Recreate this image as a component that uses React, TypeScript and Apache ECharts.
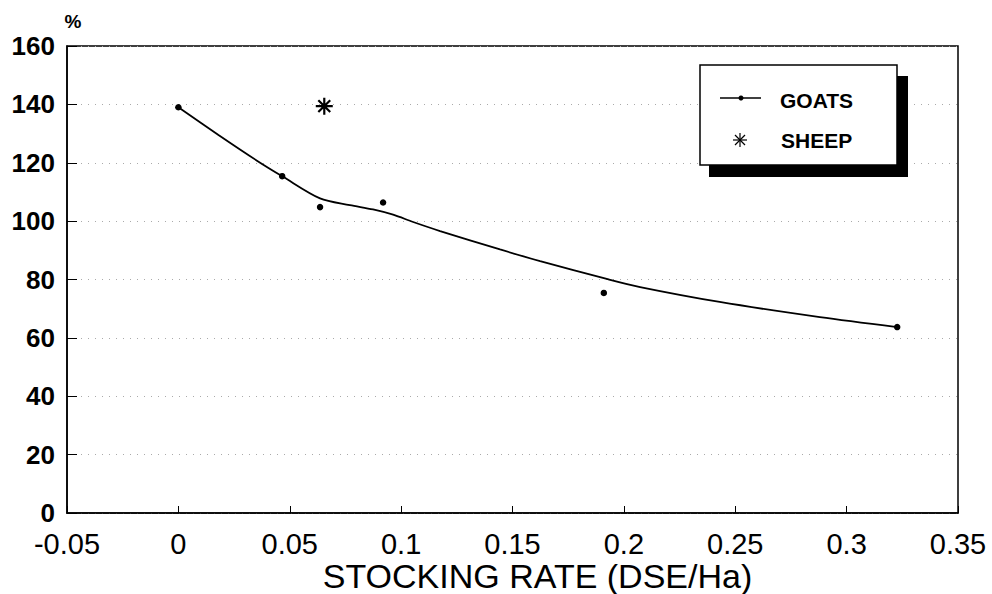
import React, { useEffect, useRef } from "react";
import * as echarts from "echarts";

// Observed goat measurements (stocking rate, %)
const goatX = [0, 0.0466, 0.0636, 0.0919, 0.191, 0.3227];
const goatY = [139, 115.4, 104.8, 106.4, 75.4, 63.7];

// Fitted goat curve
const curveX = [0, 0.018, 0.0351, 0.047, 0.0636, 0.077, 0.0874, 0.0964, 0.1054, 0.1175, 0.1444, 0.1624, 0.1923, 0.2073, 0.243, 0.288, 0.3227];
const curveY = [139, 129.5, 120.8, 115.2, 107.8, 105.5, 104.0, 102.2, 99.7, 96.6, 90.3, 86.3, 80.2, 77.4, 72.3, 67.1, 63.7];

// Sheep measurement
const sheepX = [0.0655];
const sheepY = [139.4];

const xTicks = { min: -0.05, max: 0.35, interval: 0.05 };
const yTicks = { min: 0, max: 160, interval: 20 };

const legendNames = ["GOATS", "SHEEP"];

const NARROW = "'Liberation Sans Narrow', 'Liberation Sans', Arial, sans-serif";
const SANS = "'Liberation Sans', Arial, Helvetica, sans-serif";

const ASTERISK = "path://M0,-10L0,10M-10,0L10,0M-7,-7L7,7M-7,7L7,-7";

export default function App() {
  const ref = useRef<HTMLDivElement>(null);
  useEffect(() => {
    if (!ref.current) return;
    const chart = echarts.init(ref.current, null, { renderer: "svg" });
    const goatPts = goatX.map((x, i) => [x, goatY[i]]);
    const curvePts = curveX.map((x, i) => [x, curveY[i]]);
    const sheepPts = sheepX.map((x, i) => [x, sheepY[i]]);
    chart.setOption({
      animation: false,
      backgroundColor: "#fff",
      grid: {
        left: 67,
        right: 34,
        top: 46,
        bottom: 81,
        containLabel: false,
        outerBoundsMode: "none",
        show: true,
        borderColor: "#000",
        borderWidth: 1.5,
        backgroundColor: "transparent",
      },
      xAxis: {
        type: "value",
        min: xTicks.min,
        max: xTicks.max,
        interval: xTicks.interval,
        name: "STOCKING RATE (DSE/Ha)",
        nameLocation: "middle",
        nameGap: 46,
        nameMoveOverlap: false,
        nameTextStyle: { fontFamily: NARROW, fontSize: 34, lineHeight: 34, color: "#000", padding: [0, 0, 0, 50] },
        axisLine: { show: true, onZero: false, lineStyle: { color: "#000", width: 1.5 } },
        axisTick: { show: true, inside: true, length: 7, lineStyle: { color: "#000", width: 1 } },
        axisLabel: {
          fontFamily: NARROW,
          fontSize: 29,
          lineHeight: 29,
          color: "#000",
          margin: 16,
          formatter: (v: number) => String(parseFloat(v.toFixed(2))),
        },
        splitLine: { show: false },
      },
      yAxis: {
        type: "value",
        min: yTicks.min,
        max: yTicks.max,
        interval: yTicks.interval,
        axisLine: { show: true, onZero: false, lineStyle: { color: "#000", width: 1.5 } },
        axisTick: { show: true, inside: true, length: 10, lineStyle: { color: "#000", width: 1 } },
        axisLabel: { fontFamily: SANS, fontWeight: "bold", fontSize: 26, color: "#000", margin: 12 },
        splitLine: { show: true, lineStyle: { color: "#aaa", width: 1, type: [1, 6] } },
      },
      series: [
        {
          name: "GOATS fit",
          type: "line",
          data: curvePts,
          smooth: 0.3,
          showSymbol: false,
          symbol: "none",
          lineStyle: { color: "#000", width: 1.8 },
          z: 2,
        },
        {
          name: legendNames[0],
          type: "scatter",
          data: goatPts,
          symbol: "circle",
          symbolSize: 6.5,
          itemStyle: { color: "#000", opacity: 1 },
          z: 3,
        },
        {
          name: legendNames[1],
          type: "scatter",
          data: sheepPts,
          symbol: ASTERISK,
          symbolSize: 17,
          itemStyle: { color: "none", borderColor: "#000", borderWidth: 2.2, opacity: 1 },
          z: 3,
        },
      ],
      graphic: [
        { type: "rect", shape: { x: 709, y: 76, width: 199, height: 101 }, style: { fill: "#000" }, z: 10 },
        { type: "rect", shape: { x: 700, y: 65, width: 197, height: 100 }, style: { fill: "#fff", stroke: "#000", lineWidth: 1.5 }, z: 11 },
        { type: "line", shape: { x1: 720, y1: 98, x2: 761, y2: 98 }, style: { stroke: "#000", lineWidth: 1.5 }, z: 12 },
        { type: "circle", shape: { cx: 741, cy: 98, r: 2.5 }, style: { fill: "#000" }, z: 12 },
        { type: "text", x: 780, y: 100, style: { text: legendNames[0], fontFamily: SANS, fontWeight: "bold", fontSize: 21, fill: "#000", verticalAlign: "middle" }, z: 12 },
        {
          type: "group",
          x: 740,
          y: 140,
          z: 12,
          children: [
            { type: "line", shape: { x1: 0, y1: -7, x2: 0, y2: 7 }, style: { stroke: "#000", lineWidth: 1.2 }, z: 12 },
            { type: "line", shape: { x1: -7, y1: 0, x2: 7, y2: 0 }, style: { stroke: "#000", lineWidth: 1.2 }, z: 12 },
            { type: "line", shape: { x1: -5, y1: -5, x2: 5, y2: 5 }, style: { stroke: "#000", lineWidth: 1.2 }, z: 12 },
            { type: "line", shape: { x1: -5, y1: 5, x2: 5, y2: -5 }, style: { stroke: "#000", lineWidth: 1.2 }, z: 12 },
          ],
        },
        { type: "text", x: 781, y: 140, style: { text: legendNames[1], fontFamily: SANS, fontWeight: "bold", fontSize: 21, fill: "#000", verticalAlign: "middle" }, z: 12 },
        { type: "text", x: 73, y: 21, style: { text: "%", fontFamily: SANS, fontWeight: "bold", fontSize: 19, fill: "#000", align: "center", verticalAlign: "middle" }, z: 12 },
      ],
    });
    return () => chart.dispose();
  }, []);
  return (
    <div
      ref={ref}
      style={{ position: "fixed", left: 0, top: 0, width: 992, height: 594 }}
    />
  );
}
